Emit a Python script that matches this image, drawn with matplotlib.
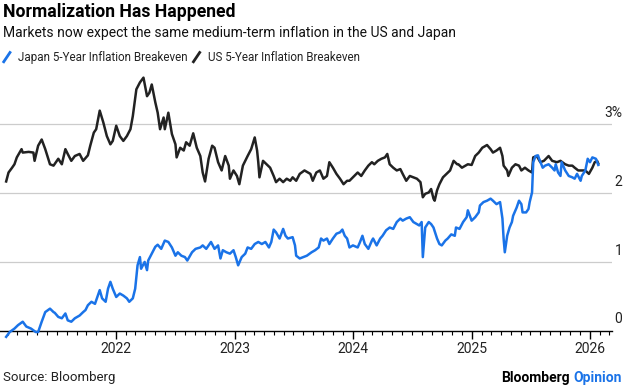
import numpy as np
import pandas as pd
import matplotlib
matplotlib.use("Agg")
from matplotlib import pyplot as plt
import matplotlib.dates as mdates
import matplotlib.transforms as mtransforms
from matplotlib.lines import Line2D

# decimal-year positions and values (%)
us_t = [2021.07, 2021.09, 2021.12, 2021.14, 2021.16, 2021.20, 2021.21, 2021.26, 2021.30, 2021.31,
        2021.34, 2021.37, 2021.40, 2021.44, 2021.47, 2021.51, 2021.54, 2021.57, 2021.59, 2021.62,
        2021.65, 2021.69, 2021.72, 2021.76, 2021.78, 2021.81, 2021.83, 2021.86, 2021.89, 2021.92,
        2021.95, 2021.97, 2022.00, 2022.03, 2022.06, 2022.09, 2022.12, 2022.14, 2022.17, 2022.20,
        2022.23, 2022.26, 2022.28, 2022.30, 2022.33, 2022.35, 2022.37, 2022.40, 2022.41, 2022.44,
        2022.47, 2022.50, 2022.51, 2022.54, 2022.57, 2022.59, 2022.62, 2022.65, 2022.68, 2022.71,
        2022.73, 2022.75, 2022.78, 2022.81, 2022.83, 2022.86, 2022.89, 2022.92, 2022.95, 2022.96,
        2022.99, 2023.02, 2023.04, 2023.07, 2023.11, 2023.14, 2023.17, 2023.19, 2023.20, 2023.21,
        2023.24, 2023.27, 2023.30, 2023.33, 2023.35, 2023.38, 2023.41, 2023.44, 2023.47, 2023.49,
        2023.52, 2023.55, 2023.59, 2023.64, 2023.66, 2023.69, 2023.72, 2023.75, 2023.78, 2023.80,
        2023.83, 2023.86, 2023.89, 2023.92, 2023.95, 2023.97, 2024.00, 2024.04, 2024.07, 2024.10,
        2024.13, 2024.16, 2024.18, 2024.21, 2024.24, 2024.27, 2024.29, 2024.31, 2024.34, 2024.37,
        2024.40, 2024.42, 2024.45, 2024.48, 2024.51, 2024.54, 2024.57, 2024.59, 2024.61, 2024.64,
        2024.66, 2024.68, 2024.69, 2024.71, 2024.73, 2024.76, 2024.79, 2024.82, 2024.85, 2024.88,
        2024.89, 2024.92, 2024.95, 2024.97, 2025.00, 2025.03, 2025.06, 2025.09, 2025.13, 2025.16,
        2025.18, 2025.21, 2025.24, 2025.26, 2025.27, 2025.30, 2025.31, 2025.34, 2025.37, 2025.40,
        2025.42, 2025.45, 2025.48, 2025.51, 2025.52, 2025.55, 2025.58, 2025.61, 2025.65, 2025.68,
        2025.72, 2025.75, 2025.79, 2025.82, 2025.85, 2025.87, 2025.90, 2025.93, 2025.96, 2025.99,
        2026.02, 2026.04, 2026.06, 2026.07]
us_v = [2.17, 2.30, 2.37, 2.42, 2.52, 2.64, 2.59, 2.60, 2.59, 2.47,
        2.69, 2.78, 2.64, 2.42, 2.40, 2.50, 2.42, 2.64, 2.57, 2.47,
        2.54, 2.57, 2.47, 2.55, 2.69, 2.88, 2.93, 3.20, 3.03, 2.83,
        2.71, 2.76, 2.98, 2.83, 2.76, 2.83, 2.93, 3.12, 3.51, 3.61,
        3.68, 3.41, 3.46, 3.58, 3.32, 3.17, 2.93, 3.10, 2.93, 3.17,
        2.86, 2.71, 2.52, 2.66, 2.62, 2.74, 2.69, 2.87, 2.66, 2.54,
        2.30, 2.17, 2.50, 2.69, 2.66, 2.45, 2.33, 2.54, 2.40, 2.21,
        2.33, 2.25, 2.13, 2.40, 2.54, 2.64, 2.81, 2.62, 2.45, 2.23,
        2.47, 2.42, 2.37, 2.25, 2.16, 2.21, 2.16, 2.21, 2.18, 2.23,
        2.18, 2.28, 2.33, 2.28, 2.18, 2.30, 2.33, 2.21, 2.25, 2.45,
        2.37, 2.28, 2.21, 2.13, 2.18, 2.18, 2.23, 2.30, 2.25, 2.33,
        2.40, 2.45, 2.42, 2.47, 2.50, 2.52, 2.57, 2.42, 2.37, 2.33,
        2.35, 2.28, 2.18, 2.25, 2.23, 2.21, 2.16, 1.94, 1.99, 2.01,
        2.06, 1.92, 1.89, 2.04, 2.13, 2.23, 2.28, 2.33, 2.47, 2.42,
        2.42, 2.37, 2.40, 2.42, 2.41, 2.54, 2.59, 2.66, 2.70, 2.64,
        2.59, 2.62, 2.66, 2.54, 2.40, 2.33, 2.25, 2.37, 2.42, 2.40,
        2.33, 2.37, 2.33, 2.30, 2.52, 2.54, 2.45, 2.47, 2.54, 2.47,
        2.45, 2.47, 2.42, 2.40, 2.40, 2.37, 2.33, 2.33, 2.33, 2.28,
        2.37, 2.45, 2.47, 2.43]

jp_t = [2021.07, 2021.10, 2021.14, 2021.17, 2021.21, 2021.24, 2021.28, 2021.32, 2021.34, 2021.37,
        2021.40, 2021.44, 2021.47, 2021.48, 2021.51, 2021.54, 2021.57, 2021.59, 2021.62, 2021.65,
        2021.69, 2021.72, 2021.74, 2021.76, 2021.79, 2021.82, 2021.85, 2021.86, 2021.88, 2021.91,
        2021.93, 2021.95, 2021.97, 2022.00, 2022.03, 2022.06, 2022.09, 2022.11, 2022.14, 2022.16,
        2022.18, 2022.20, 2022.21, 2022.24, 2022.26, 2022.27, 2022.30, 2022.33, 2022.35, 2022.38,
        2022.41, 2022.44, 2022.47, 2022.50, 2022.52, 2022.55, 2022.58, 2022.60, 2022.64, 2022.67,
        2022.71, 2022.73, 2022.76, 2022.80, 2022.83, 2022.86, 2022.88, 2022.90, 2022.93, 2022.96,
        2022.99, 2023.01, 2023.03, 2023.06, 2023.09, 2023.11, 2023.14, 2023.17, 2023.20, 2023.23,
        2023.26, 2023.29, 2023.31, 2023.33, 2023.35, 2023.38, 2023.41, 2023.43, 2023.45, 2023.49,
        2023.51, 2023.52, 2023.55, 2023.58, 2023.61, 2023.65, 2023.68, 2023.71, 2023.73, 2023.75,
        2023.78, 2023.80, 2023.83, 2023.86, 2023.89, 2023.91, 2023.93, 2023.95, 2023.97, 2024.00,
        2024.04, 2024.06, 2024.08, 2024.10, 2024.13, 2024.16, 2024.17, 2024.20, 2024.23, 2024.25,
        2024.28, 2024.31, 2024.34, 2024.37, 2024.40, 2024.42, 2024.45, 2024.48, 2024.51, 2024.54,
        2024.56, 2024.58, 2024.59, 2024.61, 2024.64, 2024.66, 2024.68, 2024.71, 2024.73, 2024.75,
        2024.78, 2024.80, 2024.83, 2024.86, 2024.87, 2024.90, 2024.93, 2024.96, 2024.97, 2025.00,
        2025.03, 2025.06, 2025.07, 2025.10, 2025.13, 2025.16, 2025.18, 2025.21, 2025.24, 2025.26,
        2025.27, 2025.28, 2025.30, 2025.32, 2025.34, 2025.35, 2025.38, 2025.40, 2025.42, 2025.43,
        2025.46, 2025.48, 2025.49, 2025.51, 2025.52, 2025.54, 2025.56, 2025.57, 2025.60, 2025.62,
        2025.65, 2025.68, 2025.70, 2025.71, 2025.73, 2025.75, 2025.76, 2025.79, 2025.82, 2025.85,
        2025.87, 2025.89, 2025.92, 2025.93, 2025.96, 2025.98, 2026.00, 2026.02, 2026.05, 2026.07]
jp_v = [-0.09, -0.02, 0.03, 0.08, 0.13, 0.06, 0.03, -0.02, -0.02, 0.13,
        0.27, 0.32, 0.27, 0.26, 0.20, 0.18, 0.25, 0.15, 0.13, 0.18,
        0.22, 0.27, 0.30, 0.37, 0.42, 0.39, 0.54, 0.59, 0.47, 0.42,
        0.61, 0.71, 0.61, 0.49, 0.54, 0.51, 0.47, 0.42, 0.47, 0.61,
        0.95, 1.07, 0.90, 1.00, 0.88, 1.02, 1.12, 1.22, 1.25, 1.19,
        1.31, 1.29, 1.21, 1.09, 1.14, 1.09, 1.07, 1.02, 1.14, 1.19,
        1.21, 1.24, 1.19, 1.29, 1.19, 1.24, 1.05, 1.17, 1.14, 1.12,
        1.17, 1.07, 0.95, 1.07, 1.12, 1.21, 1.19, 1.26, 1.29, 1.26,
        1.29, 1.21, 1.29, 1.47, 1.43, 1.34, 1.48, 1.38, 1.34, 1.36,
        1.24, 1.09, 1.05, 1.07, 1.09, 1.14, 1.17, 1.21, 1.34, 1.31,
        1.34, 1.26, 1.34, 1.41, 1.43, 1.47, 1.38, 1.34, 1.21, 1.24,
        1.21, 1.29, 1.38, 1.26, 1.19, 1.31, 1.34, 1.24, 1.34, 1.38,
        1.46, 1.50, 1.48, 1.58, 1.63, 1.60, 1.63, 1.65, 1.58, 1.55,
        1.53, 1.58, 1.07, 1.50, 1.58, 1.55, 1.50, 1.34, 1.26, 1.24,
        1.31, 1.34, 1.40, 1.38, 1.50, 1.48, 1.58, 1.65, 1.75, 1.60,
        1.65, 1.72, 1.82, 1.87, 1.89, 1.92, 1.89, 1.84, 1.87, 1.63,
        1.34, 1.14, 1.38, 1.50, 1.58, 1.67, 1.79, 1.89, 1.84, 1.72,
        1.72, 1.77, 1.87, 2.01, 2.45, 2.54, 2.55, 2.50, 2.37, 2.40,
        2.42, 2.37, 2.33, 2.42, 2.30, 2.25, 2.45, 2.33, 2.25, 2.23,
        2.21, 2.28, 2.18, 2.25, 2.33, 2.50, 2.45, 2.52, 2.50, 2.41]

y_ticks = [0, 1, 2, 3]
y_labels = ["0", "1", "2", "3%"]

BLUE = "#1a73e8"
DARK = "#222222"
GRID = "#cccccc"


def to_dates(years):
    years = np.asarray(years)
    base = pd.to_datetime((years // 1).astype(int).astype(str), format="%Y")
    return base + pd.to_timedelta((years % 1) * 365.25, unit="D")


def run():
    plt.rcParams["font.family"] = ["Roboto", "DejaVu Sans"]
    fig = plt.figure(figsize=(6.24, 3.86), dpi=100)
    ax = fig.add_axes([0.0, 0.122, 0.981, 0.684])

    ax.plot(to_dates(us_t), us_v, color=DARK, lw=1.8, zorder=3)
    ax.plot(to_dates(jp_t), jp_v, color=BLUE, lw=1.8, zorder=4)

    ax.set_xlim(to_dates([2021.018])[0], to_dates([2026.187])[0])
    ax.set_ylim(-0.12, 3.72)

    for s in ["top", "right", "left"]:
        ax.spines[s].set_visible(False)
    ax.spines["bottom"].set_position(("data", 0))
    ax.spines["bottom"].set_color("black")
    ax.spines["bottom"].set_linewidth(1.0)
    ax.spines["bottom"].set_zorder(2)

    for v in y_ticks[1:]:
        ax.axhline(v, color=GRID, lw=0.9, zorder=1)
    ax.set_yticks([])

    ax.xaxis.set_major_locator(mdates.YearLocator())
    ax.xaxis.set_major_formatter(mdates.DateFormatter("%Y"))
    ax.xaxis.set_minor_locator(mdates.MonthLocator())
    ax.tick_params(axis="x", which="major", length=6, width=1, color="black",
                   labelsize=10, pad=2, labelcolor="#222222")
    ax.tick_params(axis="x", which="minor", length=3, width=0.8, color="black")

    trans = mtransforms.blended_transform_factory(fig.transFigure, ax.transData)
    trans = mtransforms.offset_copy(trans, fig=fig, y=3, units="points")
    for v, lab in zip(y_ticks, y_labels):
        ax.text(0.997, v, lab, transform=trans, ha="right", va="bottom",
                fontsize=10, color="#222222")

    # header
    fig.text(0.005, 0.968, "Normalization Has Happened", fontsize=12.7,
             fontweight="bold", va="center", ha="left", color="black")
    fig.text(0.005, 0.915, "Markets now expect the same medium-term inflation in the US and Japan",
             fontsize=10.0, va="center", ha="left", color="#111111")

    # legend
    ly = 0.852
    fig.add_artist(Line2D([0.006, 0.016], [ly - 0.012, ly + 0.012], color=BLUE, lw=2,
                          transform=fig.transFigure))
    fig.text(0.029, ly, "Japan 5-Year Inflation Breakeven", fontsize=8.4,
             va="center", ha="left", color="#222222")
    fig.add_artist(Line2D([0.310, 0.320], [ly - 0.012, ly + 0.012], color=DARK, lw=2,
                          transform=fig.transFigure))
    fig.text(0.333, ly, "US 5-Year Inflation Breakeven", fontsize=8.4,
             va="center", ha="left", color="#222222")

    # footer
    fig.text(0.005, 0.022, "Source: Bloomberg", fontsize=9.5, va="center",
             ha="left", color="#222222")
    t2 = fig.text(0.997, 0.022, "Opinion", fontsize=10, fontweight="bold",
                  va="center", ha="right", color=BLUE)
    fig.canvas.draw()
    bb = t2.get_window_extent()
    fig.text((bb.x0 - 4) / fig.bbox.width, 0.022, "Bloomberg", fontsize=10,
             fontweight="bold", va="center", ha="right", color="black")

    fig.savefig("out.png", dpi=100)


if __name__ == "__main__":
    run()
